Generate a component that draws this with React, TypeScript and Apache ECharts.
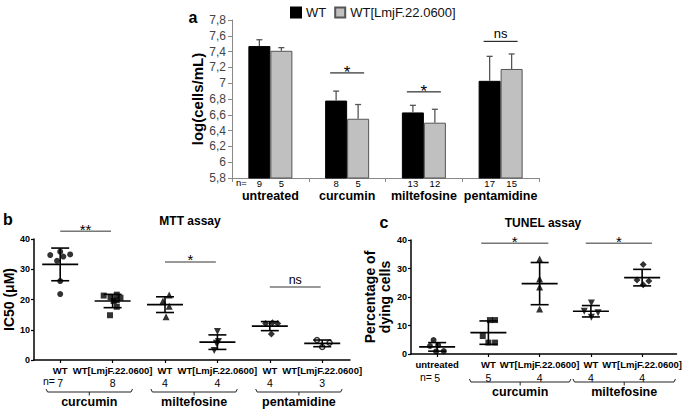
import React, { useEffect, useRef } from 'react';
import * as echarts from 'echarts';

const FONT = "'Liberation Sans', Arial, sans-serif";
const NARROW = "'Liberation Sans Narrow', 'Arial Narrow', 'Liberation Sans', sans-serif";

// ---------- Panel a: growth, log(cells/mL) ----------
const aCategories = ['untreated', 'curcumin', 'miltefosine', 'pentamidine'];
const aSeriesNames = ['WT', 'WT[LmjF.22.0600]'];
const aWT = [7.47, 6.78, 6.63, 7.03];
const aWTErr = [0.08, 0.12, 0.09, 0.31];
const aLmj = [7.41, 6.55, 6.5, 7.18];
const aLmjErr = [0.04, 0.18, 0.17, 0.19];
const aWTn = [9, 8, 13, 17];
const aLmjn = [5, 5, 12, 15];
const aSigCats = [1, 2, 3];
const aSigLevels = [7.13, 6.89, 7.53];
const aSigLabels = ['*', '*', 'ns'];
const aYMin = 5.8;
const aYMax = 7.8;
const aYStep = 0.2;

// ---------- Panel b: MTT assay, IC50 (µM) ----------
const bLabels = ['WT', 'WT[LmjF.22.0600]', 'WT', 'WT[LmjF.22.0600]', 'WT', 'WT[LmjF.22.0600]'];
const bN = [7, 8, 4, 4, 4, 3];
const bGroups = ['curcumin', 'miltefosine', 'pentamidine'];
const bValues = [
  [34.7, 35.8, 34.2, 34.9, 32.8, 26.1, 21.8],
  [21.3, 20.8, 21.6, 20.6, 19.8, 17.6, 14.8, 19.5],
  [21.5, 19.5, 17.8, 14.3],
  [9.4, 6.1, 5.5, 3.1],
  [12.1, 12.3, 12.1, 8.6],
  [6.6, 4.3, 5.7],
];
const bJitter = [
  [-0.19, 0, 0.06, 0.19, -0.06, 0, 0],
  [-0.17, -0.04, 0.08, 0.15, 0.08, 0.08, -0.05, 0.02],
  [0.08, -0.04, 0.08, 0.02],
  [0, 0.02, -0.02, -0.06],
  [-0.08, 0.05, 0.15, 0.03],
  [-0.1, 0, 0.14],
];
const bMean = [31.6, 19.5, 18.3, 5.9, 11.2, 5.5];
const bSD = [5.4, 2.2, 2.6, 2.4, 1.5, 1.1];
const bSigFrom = [1, 3, 5];
const bSigTo = [1.97, 3.97, 5.97];
const bSigLevels = [42.6, 32.4, 24.1];
const bSigLabels = ['**', '*', 'ns'];

// ---------- Panel c: TUNEL assay, % dying cells ----------
const cLabels = ['untreated', 'WT', 'WT[LmjF.22.0600]', 'WT', 'WT[LmjF.22.0600]'];
const cN = [5, 5, 4, 4, 4];
const cGroups = ['curcumin', 'miltefosine'];
const cValues = [
  [4.9, 2.8, 3.1, 0.9, 1.0],
  [11.9, 11.9, 6.3, 4.0, 4.0],
  [33.3, 26.3, 23.5, 15.8],
  [17.9, 15.0, 14.5, 12.9],
  [31.4, 26.0, 25.6, 24.3],
];
const cJitter = [
  [-0.07, -0.14, 0.02, -0.02, 0.13],
  [0.03, 0.13, -0.11, 0, 0.13],
  [0, 0, 0, 0],
  [0.01, -0.13, 0.14, 0.01],
  [0.02, -0.1, 0.13, 0.02],
];
const cMean = [2.5, 7.5, 24.7, 15.0, 26.8];
const cSD = [1.5, 4.1, 7.4, 2.0, 2.9];
const cSigFrom = [1.86, 3.9];
const cSigTo = [3.17, 5.19];
const cSigLevels = [38.9, 38.9];
const cSigLabels = ['*', '*'];

// ---------- layout / style (not data) ----------
const bBrackets = [[0.73, 2.38], [2.73, 4.38], [4.73, 6.38]];
const cBrackets = [[1.63, 3.61], [3.65, 5.65]];
const bSymbols = [
  { symbol: 'circle', size: 6, rotate: 0, hollow: false },
  { symbol: 'rect', size: 6, rotate: 0, hollow: false },
  { symbol: 'triangle', size: 7, rotate: 0, hollow: false },
  { symbol: 'triangle', size: 7, rotate: 180, hollow: false },
  { symbol: 'diamond', size: 7, rotate: 0, hollow: false },
  { symbol: 'circle', size: 5, rotate: 0, hollow: true },
];
const cSymbols = [
  { symbol: 'circle', size: 6, rotate: 0, hollow: false },
  { symbol: 'rect', size: 6, rotate: 0, hollow: false },
  { symbol: 'triangle', size: 7, rotate: 0, hollow: false },
  { symbol: 'triangle', size: 7, rotate: 180, hollow: false },
  { symbol: 'diamond', size: 7, rotate: 0, hollow: false },
];

function tstyle(text: string, s: any) {
  const align = s.align || 'center';
  const va = s.verticalAlign || 'middle';
  const fill = s.fill || '#000';
  return {
    text,
    fontFamily: FONT,
    ...s,
    legacy: false,
    fill,
    align,
    verticalAlign: va,
  };
}

function gText(text: string, x: number, y: number, s: any) {
  return { type: 'text', x, y, style: tstyle(text, s) };
}

function fmtComma(v: number) {
  const r = Math.round(v * 10) / 10;
  return String(r).replace('.', ',');
}

function errRender(dx: number) {
  return (params: any, api: any) => {
    const i = api.value(0);
    const v = api.value(1);
    const e = api.value(2);
    const base = api.coord([i, v]);
    const top = api.coord([i, v + e]);
    const x = base[0] + dx;
    const st = { stroke: '#555', lineWidth: 1.3 };
    return {
      type: 'group',
      children: [
        { type: 'line', shape: { x1: x, y1: base[1], x2: x, y2: top[1] }, style: st },
        { type: 'line', shape: { x1: x - 3, y1: top[1], x2: x + 3, y2: top[1] }, style: st },
      ],
    };
  };
}

function sigRender(labels: string[], color: string, width: number, starSize: number, nsSize: number, starDy: number, halfPx?: number) {
  return (params: any, api: any) => {
    const label = labels[params.dataIndex];
    let p1, p2;
    if (halfPx) {
      const c = api.coord([api.value(0), api.value(1)]);
      p1 = [c[0] - halfPx, c[1]];
      p2 = [c[0] + halfPx, c[1]];
    } else {
      p1 = api.coord([api.value(0), api.value(2)]);
      p2 = api.coord([api.value(1), api.value(2)]);
    }
    const cx = (p1[0] + p2[0]) / 2;
    const isStar = label.indexOf('*') >= 0;
    const textEl = isStar
      ? { type: 'text', x: cx, y: p1[1] + starDy, style: tstyle(label, { fontSize: starSize, verticalAlign: 'middle' }) }
      : { type: 'text', x: cx, y: p1[1] - 1, style: tstyle(label, { fontSize: nsSize, verticalAlign: 'bottom' }) };
    return {
      type: 'group',
      children: [
        { type: 'line', shape: { x1: p1[0], y1: p1[1], x2: p2[0], y2: p2[1] }, style: { stroke: color, lineWidth: width } },
        textEl,
      ],
    };
  };
}

function meanSdRender(halfMean: number, halfCap: number) {
  return (params: any, api: any) => {
    const x = api.value(0);
    const m = api.value(1);
    const s = api.value(2);
    const pm = api.coord([x, m]);
    const pt = api.coord([x, m + s]);
    const pb = api.coord([x, m - s]);
    const st = { stroke: '#000', lineWidth: 1.6 };
    return {
      type: 'group',
      children: [
        { type: 'line', shape: { x1: pm[0] - halfMean, y1: pm[1], x2: pm[0] + halfMean, y2: pm[1] }, style: st },
        { type: 'line', shape: { x1: pt[0], y1: pt[1], x2: pb[0], y2: pb[1] }, style: st },
        { type: 'line', shape: { x1: pt[0] - halfCap, y1: pt[1], x2: pt[0] + halfCap, y2: pt[1] }, style: st },
        { type: 'line', shape: { x1: pb[0] - halfCap, y1: pb[1], x2: pb[0] + halfCap, y2: pb[1] }, style: st },
      ],
    };
  };
}

function bracketRender(names: string[], lineOff: number, labelOff: number) {
  return (params: any, api: any) => {
    const p1 = api.coord([api.value(0), 0]);
    const p2 = api.coord([api.value(1), 0]);
    const y = p1[1] + lineOff;
    const cx = (p1[0] + p2[0]) / 2;
    const st = { stroke: '#222', lineWidth: 1, fill: 'none' };
    return {
      type: 'group',
      children: [
        { type: 'polyline', shape: { points: [[p1[0], y - 3], [p1[0] + 1.5, y], [p2[0] - 1.5, y], [p2[0], y - 3]] }, style: st },
        { type: 'line', shape: { x1: cx, y1: y, x2: cx, y2: y + 3.5 }, style: st },
        { type: 'text', x: cx, y: p1[1] + labelOff, style: tstyle(names[params.dataIndex], { fontSize: 12.5, fontWeight: 'bold' }) },
      ],
    };
  };
}

function scatterSeries(values: number[][], jitter: number[][], symbols: any[], axisIndex: number) {
  return values.map((vals, g) => {
    const sym = symbols[g];
    return {
      type: 'scatter',
      name: 'pts' + axisIndex + '_' + g,
      xAxisIndex: axisIndex,
      yAxisIndex: axisIndex,
      symbol: sym.symbol,
      symbolSize: sym.size,
      symbolRotate: sym.rotate,
      itemStyle: sym.hollow
        ? { color: '#fff', borderColor: '#000', borderWidth: 1.5 }
        : { color: '#000', borderWidth: 0 },
      data: vals.map((v, k) => [g + 1 + jitter[g][k], v]),
      z: 4,
    };
  });
}

function nLabel(ns: number[]) {
  return {
    show: true,
    position: 'bottom',
    distance: 0,
    fontSize: 9.5,
    lineHeight: 9,
    color: '#000',
    fontFamily: FONT,
    formatter: (p: any) => String(ns[p.dataIndex]),
  };
}

function buildOption(): any {
  const blackAxis = { show: true, lineStyle: { color: '#000', width: 1.5 } };
  const xLabelRich = {
    a: { fontFamily: NARROW, fontWeight: 'bold', fontSize: 9.5, lineHeight: 11, color: '#000' },
    n: { fontFamily: FONT, fontSize: 10.5, lineHeight: 13, color: '#000' },
  };

  return {
    animation: false,
    backgroundColor: '#fff',
    textStyle: { fontFamily: FONT },
    legend: {
      data: aSeriesNames,
      left: 285,
      top: 1,
      itemWidth: 10,
      itemHeight: 10,
      itemGap: 8,
      icon: 'rect',
      textStyle: { fontSize: 13, color: '#111', fontFamily: FONT },
      selectedMode: false,
    },
    grid: [
      { left: 232, top: 20, width: 307, height: 158 },
      { left: 34, top: 239, width: 316, height: 121 },
      { left: 411, top: 240, width: 272, height: 114 },
    ],
    xAxis: [
      {
        type: 'category',
        gridIndex: 0,
        data: aCategories,
        axisLine: { show: true, lineStyle: { color: '#888', width: 1 } },
        axisTick: { show: true, alignWithLabel: false, length: 4, lineStyle: { color: '#888' } },
        axisLabel: { interval: 0, hideOverlap: false, fontSize: 12.5, lineHeight: 12, fontWeight: 'bold', color: '#000', margin: 12, fontFamily: FONT },
        splitLine: { show: false },
      },
      {
        type: 'value',
        gridIndex: 1,
        min: 0.5,
        max: 6.53,
        axisLine: blackAxis,
        axisTick: { show: true, customValues: [1, 2, 3, 4, 5, 6], length: 3, lineStyle: { color: '#000', width: 1.2 } },
        axisLabel: {
          customValues: [1, 2, 3, 4, 5, 6],
          margin: 5,
          hideOverlap: false,
          formatter: (v: number) => {
            const i = Math.round(v) - 1;
            return '{a|' + bLabels[i] + '}\n{n|' + bN[i] + '}';
          },
          rich: xLabelRich,
        },
        splitLine: { show: false },
      },
      {
        type: 'value',
        gridIndex: 2,
        min: 0.49,
        max: 5.67,
        axisLine: blackAxis,
        axisTick: { show: true, customValues: [1, 2, 3, 4, 5], length: 3, lineStyle: { color: '#000', width: 1.2 } },
        axisLabel: {
          customValues: [1, 2, 3, 4, 5],
          margin: 4,
          hideOverlap: false,
          formatter: (v: number) => {
            const i = Math.round(v) - 1;
            return '{a|' + cLabels[i] + '}\n{n|' + cN[i] + '}';
          },
          rich: {
            a: { fontFamily: NARROW, fontWeight: 'bold', fontSize: 9.5, lineHeight: 13, color: '#000' },
            n: { fontFamily: FONT, fontSize: 10.5, lineHeight: 14, color: '#000' },
          },
        },
        splitLine: { show: false },
      },
    ],
    yAxis: [
      {
        type: 'value',
        gridIndex: 0,
        min: aYMin,
        max: aYMax,
        interval: aYStep,
        name: 'log(cells/mL)',
        nameLocation: 'middle',
        nameGap: 27,
        nameTextStyle: { fontSize: 15, fontWeight: 'bold', color: '#000', fontFamily: FONT },
        axisLine: { show: true, lineStyle: { color: '#888', width: 1 } },
        axisTick: { show: true, length: 4, lineStyle: { color: '#888' } },
        axisLabel: { fontSize: 12, color: '#444', margin: 6, formatter: fmtComma, fontFamily: FONT },
        splitLine: { show: false },
      },
      {
        type: 'value',
        gridIndex: 1,
        min: 0,
        max: 40,
        interval: 10,
        name: 'IC50 (μM)',
        nameLocation: 'middle',
        nameGap: 18,
        nameTextStyle: { fontSize: 14, fontWeight: 'bold', color: '#000', fontFamily: FONT },
        axisLine: blackAxis,
        axisTick: { show: true, length: 3, lineStyle: { color: '#000', width: 1.2 } },
        axisLabel: { fontSize: 9, fontWeight: 'bold', color: '#000', margin: 4, fontFamily: FONT },
        splitLine: { show: false },
      },
      {
        type: 'value',
        gridIndex: 2,
        min: 0,
        max: 40,
        interval: 10,
        name: 'Percentage of\ndying cells',
        nameLocation: 'middle',
        nameGap: 19,
        nameTextStyle: { fontSize: 14, fontWeight: 'bold', color: '#000', lineHeight: 15, fontFamily: FONT },
        axisLine: blackAxis,
        axisTick: { show: true, length: 3, lineStyle: { color: '#000', width: 1.2 } },
        axisLabel: { fontSize: 9, fontWeight: 'bold', color: '#000', margin: 4, fontFamily: FONT },
        splitLine: { show: false },
      },
    ],
    graphic: [
      gText('a', 193, 17, { fontSize: 16, fontWeight: 'bold' }),
      gText('b', 8, 219, { fontSize: 16, fontWeight: 'bold' }),
      gText('c', 384, 222, { fontSize: 16, fontWeight: 'bold' }),
      gText('MTT assay', 190, 221, { fontSize: 12, fontWeight: 'bold' }),
      gText('TUNEL assay', 543, 223, { fontSize: 12, fontWeight: 'bold' }),
      gText('n=', 236, 182, { fontSize: 9.5, lineHeight: 9, align: 'left' }),
      gText('n=', 43, 381, { fontSize: 10.5, align: 'left' }),
      gText('n=', 420, 377, { fontSize: 10.5, align: 'left' }),
    ],
    series: [
      {
        type: 'bar',
        name: aSeriesNames[0],
        xAxisIndex: 0,
        yAxisIndex: 0,
        data: aWT,
        barWidth: 22,
        barGap: '0%',
        itemStyle: { color: '#000', borderColor: '#000', borderWidth: 1 },
        label: nLabel(aWTn),
      },
      {
        type: 'bar',
        name: aSeriesNames[1],
        xAxisIndex: 0,
        yAxisIndex: 0,
        data: aLmj,
        barWidth: 22,
        barGap: '0%',
        itemStyle: { color: '#c0c0c0', borderColor: '#555', borderWidth: 1 },
        label: nLabel(aLmjn),
      },
      {
        type: 'custom',
        name: 'errWT',
        xAxisIndex: 0,
        yAxisIndex: 0,
        clip: false,
        renderItem: errRender(-11),
        data: aWT.map((v, i) => [i, v, aWTErr[i]]),
        z: 5,
      },
      {
        type: 'custom',
        name: 'errLmj',
        xAxisIndex: 0,
        yAxisIndex: 0,
        clip: false,
        renderItem: errRender(11),
        data: aLmj.map((v, i) => [i, v, aLmjErr[i]]),
        z: 5,
      },
      {
        type: 'custom',
        name: 'sigA',
        xAxisIndex: 0,
        yAxisIndex: 0,
        clip: false,
        renderItem: sigRender(aSigLabels, '#000', 1, 17, 13, 0, 17),
        data: aSigCats.map((c, k) => [c, aSigLevels[k]]),
      },
      ...scatterSeries(bValues, bJitter, bSymbols, 1),
      {
        type: 'custom',
        name: 'meanB',
        xAxisIndex: 1,
        yAxisIndex: 1,
        clip: false,
        renderItem: meanSdRender(18, 9),
        data: bMean.map((m, i) => [i + 1, m, bSD[i]]),
        z: 5,
      },
      {
        type: 'custom',
        name: 'sigB',
        xAxisIndex: 1,
        yAxisIndex: 1,
        clip: false,
        encode: { x: [0, 1], y: 2 },
        renderItem: sigRender(bSigLabels, '#777', 1.5, 15, 12.5, -2),
        data: bSigFrom.map((f, k) => [f, bSigTo[k], bSigLevels[k]]),
      },
      {
        type: 'custom',
        name: 'brB',
        xAxisIndex: 1,
        yAxisIndex: 1,
        clip: false,
        encode: { x: [0, 1], y: 2 },
        renderItem: bracketRender(bGroups, 32, 42),
        data: bBrackets.map((b) => [b[0], b[1], 0]),
      },
      ...scatterSeries(cValues, cJitter, cSymbols, 2),
      {
        type: 'custom',
        name: 'meanC',
        xAxisIndex: 2,
        yAxisIndex: 2,
        clip: false,
        renderItem: meanSdRender(18, 9),
        data: cMean.map((m, i) => [i + 1, m, cSD[i]]),
        z: 5,
      },
      {
        type: 'custom',
        name: 'sigC',
        xAxisIndex: 2,
        yAxisIndex: 2,
        clip: false,
        encode: { x: [0, 1], y: 2 },
        renderItem: sigRender(cSigLabels, '#777', 1.5, 15, 12.5, -2),
        data: cSigFrom.map((f, k) => [f, cSigTo[k], cSigLevels[k]]),
      },
      {
        type: 'custom',
        name: 'brC',
        xAxisIndex: 2,
        yAxisIndex: 2,
        clip: false,
        encode: { x: [0, 1], y: 2 },
        renderItem: bracketRender(cGroups, 28, 38),
        data: cBrackets.map((b) => [b[0], b[1], 0]),
      },
    ],
  };
}

export default function App() {
  const ref = useRef<HTMLDivElement>(null);
  useEffect(() => {
    if (!ref.current) return;
    const chart = echarts.init(ref.current, null, { renderer: 'svg' });
    chart.setOption(buildOption());
    return () => chart.dispose();
  }, []);
  return (
    <div
      ref={ref}
      style={{ position: 'absolute', left: 0, top: 0, width: 685, height: 410, background: '#fff' }}
    />
  );
}
